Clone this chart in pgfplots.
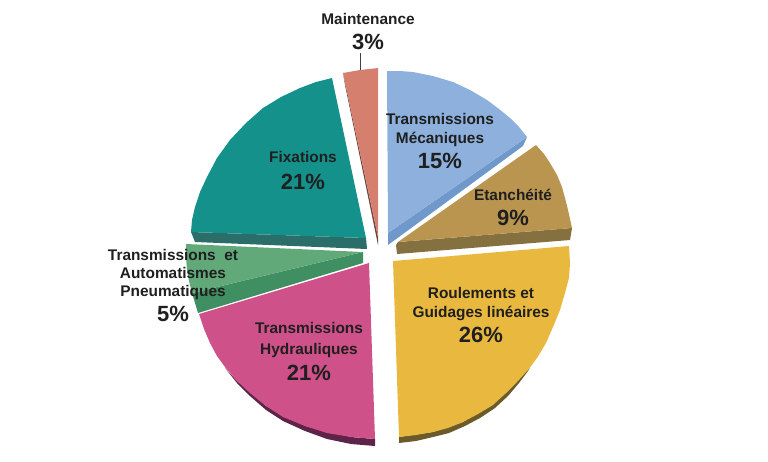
\documentclass[border=0pt]{standalone}
\usepackage{pgfplots}
\pgfplotsset{compat=1.18}
\usepackage{fontspec}
\setmainfont{Liberation Sans}
\definecolor{blueT}{HTML}{8DB0DD}\definecolor{blueS}{HTML}{6F98CB}
\definecolor{brownT}{HTML}{BA9550}\definecolor{brownS}{HTML}{85703F}
\definecolor{yelT}{HTML}{E9B83E}\definecolor{yelS}{HTML}{6B5A2A}
\definecolor{pinkT}{HTML}{CE5189}\definecolor{pinkS}{HTML}{5E2349}
\definecolor{grnT}{HTML}{62A97A}\definecolor{grnS}{HTML}{3F8F63}
\definecolor{tealT}{HTML}{13918A}\definecolor{tealS}{HTML}{2B6E69}
\definecolor{salT}{HTML}{D5806F}\definecolor{salS}{HTML}{6E4740}
\newcommand{\tl}[3]{\node[anchor=base,inner sep=0pt,font=\bfseries\fontsize{15.4}{18}\selectfont,text=black!88] at (axis cs:#1,#2+5.5) {#3};}
\newcommand{\pc}[3]{\node[anchor=base,inner sep=0pt,font=\bfseries\fontsize{22}{24}\selectfont,text=black!88] at (axis cs:#1,#2+8) {#3};}
\begin{document}
\begin{tikzpicture}
\begin{axis}[scale only axis,width=768pt,height=461pt,xmin=0,xmax=768,ymin=0,ymax=461,y dir=reverse,axis lines=none,clip=false]
\path (axis cs:0,0) rectangle (axis cs:768,461);
% sides
\addplot[fill=blueS,draw=none] coordinates {(527,137)(523,146)(388,245)(388,233)} --cycle;
\addplot[fill=brownS,draw=none] coordinates {(572,228)(570,240)(397,254)(396,245)(398,242)} --cycle;
\addplot[fill=yelS,draw=none] coordinates {(399,437)(399,443)(416,441)(433,437)(449,433)(465,426)(480,418)(495,408)(508,396)(519,383)(528,371)(530,367)(506,393)(463,422)(433,432)} --cycle;
\addplot[fill=pinkS,draw=none] coordinates {(375,439)(375,446)(351,444)(327,439)(305,431)(283,421)(266,410)(250,396)(237,383)(225,368)(237,381)(266,406)(305,426)(351,437)} --cycle;
\addplot[fill=grnS,draw=none] coordinates {(192,293)(198,313)(363,263)(363,252)} --cycle;
\addplot[fill=tealS,draw=none] coordinates {(191,232)(195,242)(367,249)(366,238)} --cycle;
\addplot[fill=salS,draw=none] coordinates {(343,73)(345,85)(378,245)(378,237)} --cycle;
% tops
\addplot[fill=blueT,draw=none] coordinates {(387,71)(400,71)(413,72)(433,76)(453,82)(470,90)(487,100)(499,109)(510,118)(519,127)(527,137)(388,233)} --cycle;
\addplot[fill=brownT,draw=none] coordinates {(398,242)(536,145)(544,154)(550,163)(557,175)(562,187)(565,198)(568,210)(572,228)} --cycle;
\addplot[fill=yelT,draw=none] coordinates {(393,261)(569,246)(570,263)(569,278)(565,293)(560,310)(553,327)(546,343)(537,358)(528,370)(517,382)(506,393)(493,405)(478,414)(463,422)(448,428)(433,432)(416,435)(399,437)} --cycle;
\addplot[fill=pinkT,draw=none] coordinates {(369,263)(199,314)(204,329)(210,343)(217,356)(225,367)(237,381)(250,393)(266,406)(283,417)(305,426)(327,433)(351,437)(375,439)} --cycle;
\addplot[fill=grnT,draw=none] coordinates {(186,244)(363,252)(192,293)(189,281)(187,270)(186,257)} --cycle;
\addplot[fill=tealT,draw=none] coordinates {(366,238)(332,78)(316,82)(300,88)(281,97)(263,108)(246,123)(230,140)(217,158)(207,177)(200,192)(195,207)(192,220)(191,232)} --cycle;
\addplot[fill=salT,draw=none] coordinates {(343,73)(360,70)(378,68)(378,237)} --cycle;
% leader
\addplot[draw=black!75,line width=0.9pt] coordinates {(360,53)(360,70)};
\tl{368}{19}{Maintenance}\pc{368}{41}{3\%}
\tl{440}{119}{Transmissions}\tl{440}{138}{Mécaniques}\pc{440}{160}{15\%}
\tl{513}{195}{Etanchéité}\pc{513}{217}{9\%}
\tl{481}{293}{Roulements et}\tl{481}{312}{Guidages linéaires}\pc{481}{334}{26\%}
\tl{309}{328}{Transmissions}\tl{309}{349}{Hydrauliques}\pc{309}{372}{21\%}
\tl{303}{157}{Fixations}\pc{303}{181}{21\%}
\tl{173}{255}{Transmissions\ \ et}\tl{173}{273}{Automatismes}\tl{173}{291}{Pneumatiques}\pc{173}{313}{5\%}
\end{axis}
\end{tikzpicture}
\end{document}
